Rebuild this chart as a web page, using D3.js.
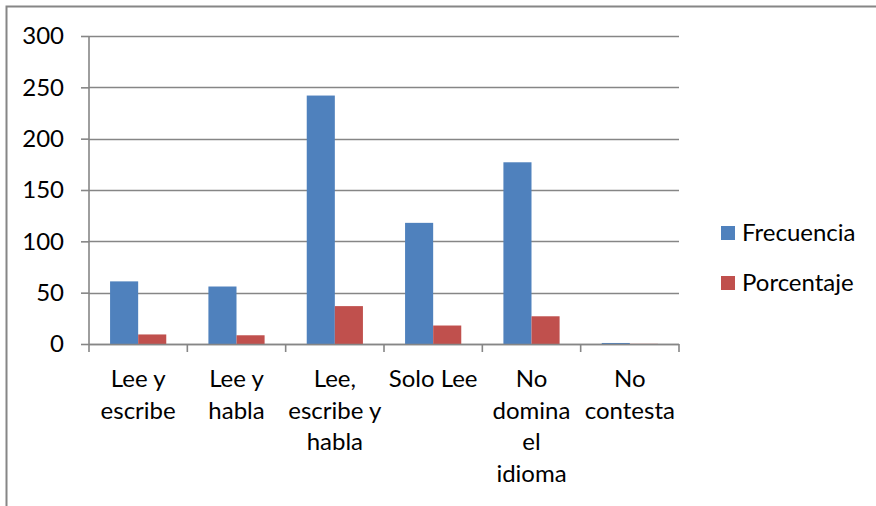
<!DOCTYPE html>
<html>
<head>
<meta charset="utf-8">
<script src="https://cdn.jsdelivr.net/npm/d3@7"></script>
<style>
  html, body { margin: 0; padding: 0; background: #fff; }
  svg { display: block; font-family: Lato, "Open Sans", sans-serif; }
</style>
</head>
<body>
<svg id="chart" width="876" height="506"></svg>
<script>
const categories = ["Lee y escribe", "Lee y habla", "Lee, escribe y habla", "Solo Lee", "No domina el idioma", "No contesta"];
const categoryLines = [["Lee y", "escribe"], ["Lee y", "habla"], ["Lee,", "escribe y", "habla"], ["Solo Lee"], ["No", "domina", "el", "idioma"], ["No", "contesta"]];
const seriesNames = ["Frecuencia", "Porcentaje"];
const frecuencia = [61, 56, 242, 118, 177, 1];
const porcentaje = [9.3, 8.5, 36.9, 18, 27, 0.15];
const yTicks = [0, 50, 100, 150, 200, 250, 300];
const colors = ["#4F81BD", "#C0504D"];

const svg = d3.select("#chart");
const W = 876, H = 506;
const plot = { left: 89, right: 679, top: 36, bottom: 344 };
const FS = 24;

// outer chart border (extends past right/bottom edges)
svg.append("rect")
  .attr("x", 6.5).attr("y", 6.5)
  .attr("width", W + 20).attr("height", H + 20)
  .attr("fill", "#fff").attr("stroke", "#868686").attr("stroke-width", 2);

const x = d3.scaleBand().domain(categories).range([plot.left, plot.right]).paddingInner(0).paddingOuter(0);
const x1 = d3.scaleBand().domain(seriesNames).range([0, x.bandwidth()]).paddingInner(0).paddingOuter(0.75);
const y = d3.scaleLinear().domain([0, 300]).range([plot.bottom, plot.top]);

// gridlines
svg.append("g").selectAll("line").data(yTicks).join("line")
  .attr("x1", plot.left).attr("x2", plot.right)
  .attr("y1", d => Math.round(y(d)) + 0.5).attr("y2", d => Math.round(y(d)) + 0.5)
  .attr("stroke", "#868686").attr("stroke-width", 1.6);

// y axis
const yAxis = d3.axisLeft(y).tickValues(yTicks).tickSize(8).tickPadding(17).tickFormat(d3.format("d"));
const gy = svg.append("g").attr("transform", `translate(${plot.left},0)`).call(yAxis);
gy.select(".domain").attr("stroke", "#868686").attr("stroke-width", 1.6).attr("d", `M0,${plot.top}V${plot.bottom}`);
gy.selectAll(".tick line").attr("stroke", "#868686").attr("stroke-width", 1.6);
gy.selectAll(".tick text").attr("font-size", FS).attr("fill", "#000").attr("font-family", "Lato, 'Open Sans', sans-serif");

// bars
const data = categories.map((c, i) => ({ c, vals: [frecuencia[i], porcentaje[i]] }));
const groups = svg.append("g").selectAll("g").data(data).join("g")
  .attr("transform", d => `translate(${x(d.c)},0)`);
groups.selectAll("rect").data(d => d.vals.map((v, j) => ({ s: seriesNames[j], v, j }))).join("rect")
  .attr("x", d => x1(d.s))
  .attr("width", x1.bandwidth())
  .attr("y", d => y(d.v))
  .attr("height", d => y(0) - y(d.v))
  .attr("fill", d => colors[d.j]);

// x axis
const gx = svg.append("g").attr("transform", `translate(0,${plot.bottom})`);
gx.append("line").attr("x1", plot.left).attr("x2", plot.right).attr("y1", 0.5).attr("y2", 0.5)
  .attr("stroke", "#868686").attr("stroke-width", 1.6);
const boundaries = categories.map(c => x(c)).concat([plot.right]);
gx.selectAll("line.tk").data(boundaries).join("line").attr("class", "tk")
  .attr("x1", d => d).attr("x2", d => d).attr("y1", 0).attr("y2", 8)
  .attr("stroke", "#868686").attr("stroke-width", 1.6);

const labels = svg.append("g").selectAll("text").data(categories).join("text")
  .attr("text-anchor", "middle")
  .attr("font-size", FS)
  .attr("fill", "#000")
  .attr("x", c => x(c) + x.bandwidth() / 2)
  .attr("y", 387);
labels.selectAll("tspan").data((c, i) => categoryLines[i]).join("tspan")
  .attr("x", function() { return d3.select(this.parentNode).attr("x"); })
  .attr("dy", (d, i) => i === 0 ? 0 : 31.5)
  .text(d => d);

// legend
const legend = svg.append("g").selectAll("g").data(seriesNames).join("g")
  .attr("transform", (d, i) => `translate(721,${226 + i * 50})`);
legend.append("rect").attr("width", 14).attr("height", 14).attr("fill", (d, i) => colors[i]);
legend.append("text").attr("x", 21).attr("y", 15).attr("font-size", FS).attr("fill", "#000").text(d => d);
</script>
</body>
</html>
